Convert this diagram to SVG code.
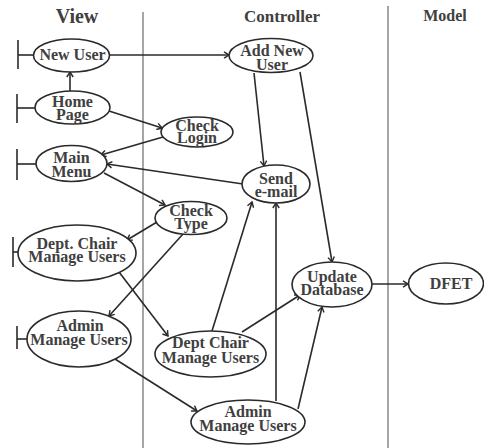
<svg xmlns="http://www.w3.org/2000/svg" width="484" height="448" viewBox="0 0 484 448">
<style>
.n ellipse{fill:#fff;stroke:#2a2a2a;stroke-width:1.6}
.n line{stroke:#2a2a2a;stroke-width:1.6}
text{font-family:"Liberation Serif","Times New Roman",serif;font-weight:bold;fill:#404040;text-anchor:middle}
.t{font-size:16px}
.c line{stroke:#2a2a2a;stroke-width:1.6;fill:none;marker-end:url(#arr)}
.lane{stroke:#888;stroke-width:1.5}
</style>
<defs>
<marker id="arr" markerUnits="userSpaceOnUse" markerWidth="8" markerHeight="8" viewBox="0 0 8 8" refX="6.5" refY="4" orient="auto">
<path d="M1.5,0.8 L6.5,4 L1.5,7.2" fill="none" stroke="#2a2a2a" stroke-width="1.4"/>
</marker>
</defs>
<rect width="484" height="448" fill="#fff"/>
<g id="lanes">
<line class="lane" x1="143" y1="12" x2="143" y2="448"/>
<line class="lane" x1="388" y1="6" x2="388" y2="448"/>
<text x="77" y="23" font-size="20">View</text>
<text x="282" y="22" font-size="17">Controller</text>
<text x="445" y="21" font-size="16">Model</text>
</g>
<g id="connectors" class="c">
<line x1="110" y1="55" x2="229" y2="55"/>
<line x1="70" y1="91" x2="70" y2="72"/>
<line x1="109" y1="111" x2="162" y2="128"/>
<line x1="163" y1="137" x2="101" y2="155"/>
<line x1="243" y1="184" x2="107" y2="164"/>
<line x1="104" y1="173" x2="165" y2="205"/>
<line x1="157" y1="222" x2="127" y2="240"/>
<line x1="183" y1="234" x2="109" y2="316"/>
<line x1="119" y1="272" x2="168" y2="336"/>
<line x1="115" y1="359" x2="197" y2="411"/>
<line x1="254" y1="73" x2="264" y2="166"/>
<line x1="300" y1="72" x2="332" y2="262"/>
<line x1="212" y1="331" x2="252" y2="202"/>
<line x1="242" y1="332" x2="300" y2="295"/>
<line x1="276" y1="401" x2="276" y2="203"/>
<line x1="298" y1="409" x2="322" y2="307"/>
<line x1="372" y1="284" x2="408" y2="284"/>
</g>
<g id="newUser" class="n">
<line x1="18" y1="40" x2="18" y2="69"/><line x1="18" y1="55" x2="34" y2="55"/>
<ellipse cx="71.5" cy="55.5" rx="38" ry="16.5"/>
<text class="t" x="72.5" y="60">New User</text>
</g>
<g id="homePage" class="n">
<line x1="17" y1="94" x2="17" y2="123"/><line x1="17" y1="108" x2="35" y2="108"/>
<ellipse cx="72.5" cy="107.5" rx="37.5" ry="16.5"/>
<text class="t" x="72.5" y="107">Home</text><text class="t" x="72.5" y="120">Page</text>
</g>
<g id="mainMenu" class="n">
<line x1="17" y1="149" x2="17" y2="180"/><line x1="17" y1="164" x2="36" y2="164"/>
<ellipse cx="71.5" cy="163.5" rx="35.5" ry="18"/>
<text class="t" x="71.5" y="163">Main</text><text class="t" x="71.5" y="177">Menu</text>
</g>
<g id="checkLogin" class="n">
<ellipse cx="197" cy="132" rx="36" ry="15"/>
<text class="t" x="197" y="131">Check</text><text class="t" x="197" y="143">Login</text>
</g>
<g id="checkType" class="n">
<ellipse cx="191" cy="218" rx="36" ry="16.5"/>
<text class="t" x="191" y="216">Check</text><text class="t" x="191" y="229">Type</text>
</g>
<g id="deptChairView" class="n">
<line x1="13" y1="237" x2="13" y2="267"/><line x1="13" y1="252" x2="18" y2="252"/>
<ellipse cx="77" cy="253" rx="59" ry="28"/>
<text class="t" x="77" y="249">Dept. Chair</text><text class="t" x="77" y="262">Manage Users</text>
</g>
<g id="adminView" class="n">
<line x1="17" y1="326" x2="17" y2="349"/><line x1="17" y1="339" x2="27" y2="339"/>
<ellipse cx="79" cy="339" rx="52" ry="28"/>
<text class="t" x="80" y="331">Admin</text><text class="t" x="79" y="345">Manage Users</text>
</g>
<g id="addNewUser" class="n">
<ellipse cx="271" cy="55.5" rx="42" ry="17"/>
<text class="t" x="272" y="56">Add New</text><text class="t" x="272" y="70">User</text>
</g>
<g id="sendEmail" class="n">
<ellipse cx="276" cy="184" rx="34" ry="19"/>
<text class="t" x="276" y="184">Send</text><text class="t" x="276" y="197">e-mail</text>
</g>
<g id="updateDatabase" class="n">
<ellipse cx="332" cy="284.5" rx="40" ry="22.5"/>
<text class="t" x="332" y="282">Update</text><text class="t" x="332" y="295">Database</text>
</g>
<g id="dfet" class="n">
<ellipse cx="446" cy="283.5" rx="37.5" ry="20.5"/>
<text class="t" x="451" y="289">DFET</text>
</g>
<g id="deptChairCtrl" class="n">
<ellipse cx="210.5" cy="354" rx="55.5" ry="23"/>
<text class="t" x="210.5" y="348">Dept Chair</text><text class="t" x="210.5" y="363">Manage Users</text>
</g>
<g id="adminCtrl" class="n">
<ellipse cx="248" cy="422" rx="57" ry="22"/>
<text class="t" x="248" y="417">Admin</text><text class="t" x="248" y="431">Manage Users</text>
</g>
</svg>
